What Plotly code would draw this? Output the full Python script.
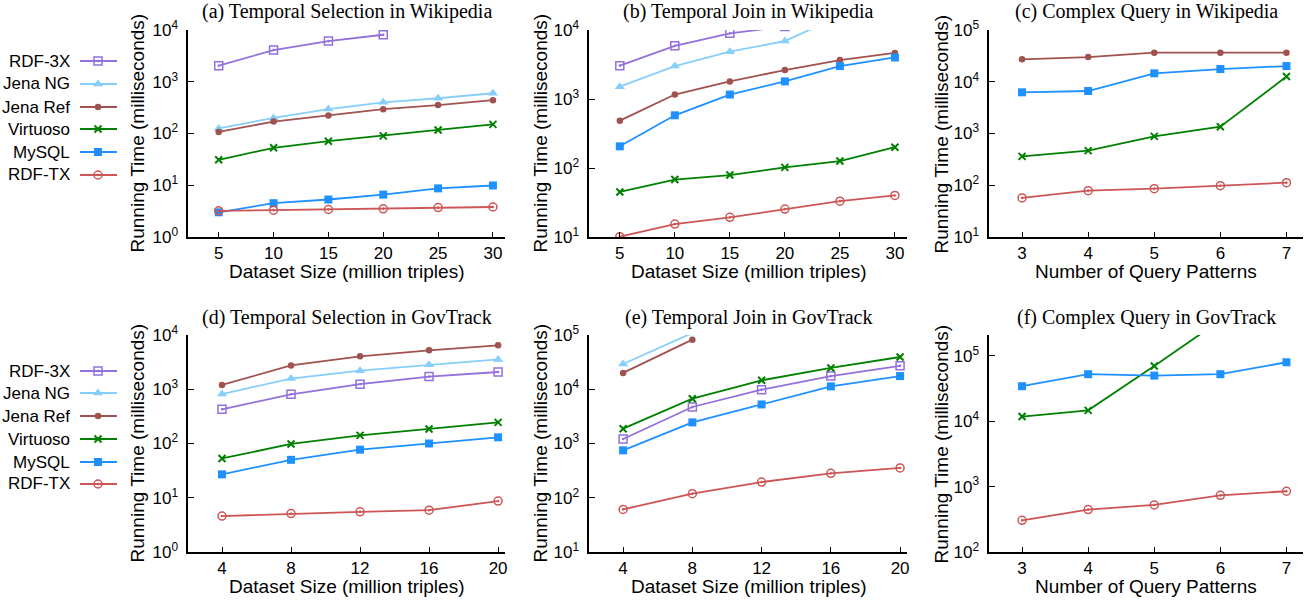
import math
import plotly.graph_objects as go

W, H = 1315, 601

# ---------------- data ----------------
series_names = ["RDF-3X", "Jena NG", "Jena Ref", "Virtuoso", "MySQL", "RDF-TX"]

x_wiki_size = [5, 10, 15, 20, 25, 30]
x_gov_size = [4, 8, 12, 16, 20]
x_patterns = [3, 4, 5, 6, 7]

# (a) Temporal Selection in Wikipedia
a_rdf3x = [2040, 4100, 6100, 8100, None, None]
a_jena_ng = [125, 200, 296, 400, 480, 600]
a_jena_ref = [107, 170, 223, 295, 355, 440]
a_virtuoso = [31, 53, 71, 90, 117, 150]
a_mysql = [3.0, 4.5, 5.3, 6.6, 8.7, 9.9]
a_rdftx = [3.2, 3.3, 3.4, 3.5, 3.7, 3.8]

# (b) Temporal Join in Wikipedia
b_rdf3x = [3040, 5900, 8950, 11200, None, None]
b_jena_ng = [1510, 3000, 4850, 6900, 16000, None]
b_jena_ref = [485, 1160, 1800, 2630, 3670, 4650]
b_virtuoso = [45, 68, 79, 102, 126, 200]
b_mysql = [206, 580, 1160, 1800, 3000, 4000]
b_rdftx = [10.1, 15.4, 19.3, 25.4, 33, 40]

# (c) Complex Query in Wikipedia
c_jena_ref = [27100, 30000, 36500, 36200, 36500]
c_virtuoso = [362, 466, 881, 1350, 12600]
c_mysql = [6250, 6620, 14550, 17600, 20100]
c_rdftx = [57, 78.5, 86, 98, 112]

# (d) Temporal Selection in GovTrack
d_rdf3x = [427, 807, 1240, 1710, 2080]
d_jena_ng = [817, 1570, 2200, 2840, 3550]
d_jena_ref = [1200, 2750, 4050, 5210, 6460]
d_virtuoso = [53, 98, 141, 185, 245]
d_mysql = [27, 50, 77, 100, 130]
d_rdftx = [4.6, 5.1, 5.5, 5.9, 8.7]

# (e) Temporal Join in GovTrack
e_rdf3x = [1210, 4710, 9820, 17500, 27000]
e_jena_ng = [29200, 109000, None, None, None]
e_jena_ref = [20000, 82000, None, None, None]
e_virtuoso = [1875, 6700, 14600, 24700, 39300]
e_mysql = [748, 2450, 5250, 11300, 17500]
e_rdftx = [61, 119, 195, 282, 355]

# (f) Complex Query in GovTrack
f_virtuoso = [11800, 14700, 70300, 350000, None]
f_mysql = [34400, 52500, 50000, 52500, 80000]
f_rdftx = [305, 445, 525, 737, 850]

# ---------------- styles ----------------
colors = {
    "RDF-3X": "#9370db",
    "Jena NG": "#87cefa",
    "Jena Ref": "#a0524f",
    "Virtuoso": "#008000",
    "MySQL": "#1e90ff",
    "RDF-TX": "#cd5555",
}
markers = {
    "RDF-3X": dict(symbol="square-open-dot", size=8, line=dict(width=1.5)),
    "Jena NG": dict(symbol="triangle-up", size=9, line=dict(width=0)),
    "Jena Ref": dict(symbol="circle", size=6.5, line=dict(width=0)),
    "Virtuoso": dict(symbol="x-thin", size=7, line=dict(width=2)),
    "MySQL": dict(symbol="square", size=8, line=dict(width=0)),
    "RDF-TX": dict(symbol="circle-open-dot", size=8, line=dict(width=1.5)),
}

panels = [
    dict(px=(188, 505), py=(30, 237), xr=[2.2, 31.1], yr=[0, 4], x=x_wiki_size,
         xt=x_wiki_size, title="(a) Temporal Selection in Wikipedia",
         xlabel="Dataset Size (million triples)", ytitle_x=137,
         data={"RDF-3X": a_rdf3x, "Jena NG": a_jena_ng, "Jena Ref": a_jena_ref,
               "Virtuoso": a_virtuoso, "MySQL": a_mysql, "RDF-TX": a_rdftx}),
    dict(px=(589, 907), py=(30, 237), xr=[2.2, 31.1], yr=[1, 4], x=x_wiki_size,
         xt=x_wiki_size, title="(b) Temporal Join in Wikipedia",
         xlabel="Dataset Size (million triples)", ytitle_x=540,
         data={"RDF-3X": b_rdf3x, "Jena NG": b_jena_ng, "Jena Ref": b_jena_ref,
               "Virtuoso": b_virtuoso, "MySQL": b_mysql, "RDF-TX": b_rdftx}),
    dict(px=(989, 1303), py=(30, 237), xr=[2.5, 7.25], yr=[1, 5], x=x_patterns,
         xt=x_patterns, title="(c) Complex Query in Wikipedia",
         xlabel="Number of Query Patterns", ytitle_x=941,
         data={"Jena Ref": c_jena_ref, "Virtuoso": c_virtuoso,
               "MySQL": c_mysql, "RDF-TX": c_rdftx}),
    dict(px=(188, 505), py=(335, 552), xr=[2.03, 20.4], yr=[0, 4], x=x_gov_size,
         xt=x_gov_size, title="(d) Temporal Selection in GovTrack",
         xlabel="Dataset Size (million triples)", ytitle_x=137,
         data={"RDF-3X": d_rdf3x, "Jena NG": d_jena_ng, "Jena Ref": d_jena_ref,
               "Virtuoso": d_virtuoso, "MySQL": d_mysql, "RDF-TX": d_rdftx}),
    dict(px=(589, 907), py=(335, 552), xr=[2.03, 20.4], yr=[1, 5], x=x_gov_size,
         xt=x_gov_size, title="(e) Temporal Join in GovTrack",
         xlabel="Dataset Size (million triples)", ytitle_x=540,
         data={"RDF-3X": e_rdf3x, "Jena NG": e_jena_ng, "Jena Ref": e_jena_ref,
               "Virtuoso": e_virtuoso, "MySQL": e_mysql, "RDF-TX": e_rdftx}),
    dict(px=(989, 1303), py=(335, 552), xr=[2.5, 7.25], yr=[2, 5.32], x=x_patterns,
         xt=x_patterns, title="(f) Complex Query in GovTrack",
         xlabel="Number of Query Patterns", ytitle_x=941,
         data={"Virtuoso": f_virtuoso, "MySQL": f_mysql, "RDF-TX": f_rdftx}),
]

SANS = "Liberation Sans, Arial, sans-serif"
SERIF = "Liberation Serif, Times New Roman, serif"
FS_LEG = 17
FS_AX = 19
FS_XT = 17
FS_YT = 17
FS_TITLE = 20
GAP = "\u00a0"

fig = go.Figure()
layout = dict(
    width=W, height=H, margin=dict(l=0, r=0, t=0, b=0, autoexpand=False),
    paper_bgcolor="white", plot_bgcolor="white", showlegend=False,
    font=dict(family=SANS, size=FS_LEG, color="black"),
)
annotations = []
n_panels = len(panels)

for i, p in enumerate(panels):
    k = "" if i == 0 else str(i + 1)
    km = str(i + 1 + n_panels)  # overlay axis for minor ticks
    xa, ya, yam = "xaxis" + k, "yaxis" + k, "yaxis" + km
    x0, x1 = p["px"]
    y0, y1 = p["py"]
    lo, hi = p["yr"]
    majors = list(range(int(math.ceil(lo)), int(math.floor(hi)) + 1))
    minor_vals = [m * 10 ** e for e in range(int(math.floor(lo)), int(math.ceil(hi)) + 1)
                  for m in range(2, 10)]
    ydom = [1 - y1 / H, 1 - y0 / H]
    layout[xa] = dict(
        domain=[x0 / W, x1 / W], anchor="y" + k, range=p["xr"],
        tickmode="array", tickvals=p["xt"], ticks="inside", ticklen=5, tickwidth=1,
        tickcolor="black",
        showline=True, linecolor="black", linewidth=1.5, showgrid=False,
        zeroline=False, automargin=False, tickfont=dict(family=SANS, size=FS_XT),
    )
    layout[ya] = dict(
        domain=ydom, anchor="x" + k, type="log", range=[lo, hi],
        tickmode="array", tickvals=[10 ** e for e in majors],
        ticktext=["10<sup>%d</sup>%s" % (e, GAP) for e in majors],
        ticks="inside", ticklen=6, tickwidth=1, tickcolor="black",
        showline=True, linecolor="black", linewidth=1.5, showgrid=False,
        zeroline=False, automargin=False, tickfont=dict(family=SANS, size=FS_YT),
    )
    layout[yam] = dict(
        domain=ydom, anchor="x" + k, overlaying="y" + k, type="log", range=[lo, hi],
        tickmode="array", tickvals=minor_vals, showticklabels=False,
        ticks="inside", ticklen=3, tickwidth=1, tickcolor="black",
        showline=False, showgrid=False, zeroline=False, automargin=False,
    )
    for name in series_names:
        if name not in p["data"]:
            continue
        mk = dict(markers[name])
        mk["color"] = colors[name]
        mk["line"] = dict(mk["line"], color=colors[name])
        fig.add_trace(go.Scatter(
            x=p["x"], y=p["data"][name], mode="lines+markers", name=name,
            xaxis="x" + k, yaxis="y" + k, line=dict(color=colors[name], width=1.8),
            marker=mk, cliponaxis=True, connectgaps=False, showlegend=False,
        ))
    # titles
    annotations.append(dict(
        text=p["title"], xref="paper", yref="paper", x=(x0 + x1) / 2 / W,
        y=1 - (y0 - 18) / H, xanchor="center", yanchor="middle", showarrow=False,
        font=dict(family=SERIF, size=FS_TITLE, color="black")))
    annotations.append(dict(
        text=p["xlabel"], xref="paper", yref="paper", x=(x0 + x1) / 2 / W,
        y=1 - (y1 + 34) / H, xanchor="center", yanchor="middle", showarrow=False,
        font=dict(family=SANS, size=FS_AX, color="black")))
    annotations.append(dict(
        text="Running Time (milliseconds)", xref="paper", yref="paper",
        x=p["ytitle_x"] / W, y=1 - (y0 + y1) / 2 / H, textangle=-90,
        xanchor="center", yanchor="middle", showarrow=False,
        font=dict(family=SANS, size=FS_AX, color="black")))

# ---------------- legends (left side, two copies) ----------------
layout["xaxis20"] = dict(domain=[0, 0.13], range=[0, 0.13 * W], visible=False,
                         anchor="y20", automargin=False)
layout["yaxis20"] = dict(domain=[0, 1], range=[H, 0], visible=False, anchor="x20",
                         automargin=False)
legend_rows = [[61, 84, 107, 129, 152, 175], [371, 393, 416, 439, 462, 484]]
for rows in legend_rows:
    for name, yy in zip(series_names, rows):
        mk = dict(markers[name])
        mk["color"] = colors[name]
        mk["line"] = dict(mk["line"], color=colors[name])
        fig.add_trace(go.Scatter(
            x=[80, 117], y=[yy, yy], mode="lines", xaxis="x20", yaxis="y20",
            line=dict(color=colors[name], width=1.8), showlegend=False, hoverinfo="skip"))
        fig.add_trace(go.Scatter(
            x=[98], y=[yy], mode="markers", xaxis="x20", yaxis="y20",
            marker=mk, showlegend=False, hoverinfo="skip"))
        annotations.append(dict(
            text=name, xref="paper", yref="paper", x=72 / W, y=1 - yy / H,
            xanchor="right", yanchor="middle", showarrow=False,
            font=dict(family=SANS, size=FS_LEG, color="black")))

layout["annotations"] = annotations
fig.update_layout(**layout)
fig.write_html("out.html", config={"displayModeBar": False},
               post_script="document.body.style.margin='0px';"
                           "document.body.style.overflow='hidden';")
